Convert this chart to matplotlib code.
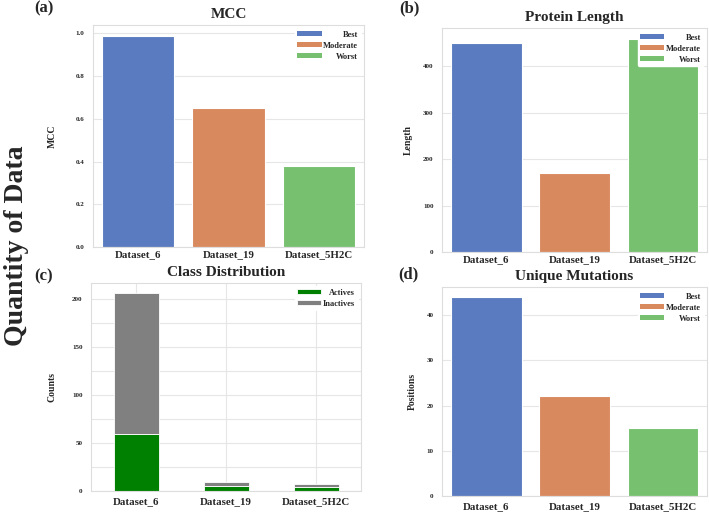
import matplotlib
matplotlib.use('Agg')
import matplotlib.pyplot as plt
import seaborn as sns
from matplotlib.patches import Patch
from matplotlib.ticker import MultipleLocator

sns.set_theme(style='whitegrid')
plt.rcParams['font.family'] = ['Liberation Serif', 'DejaVu Serif']
plt.rcParams['font.weight'] = 'bold'

datasets = ['Dataset_6', 'Dataset_19', 'Dataset_5H2C']
levels = ['Best', 'Moderate', 'Worst']
mcc = [0.99, 0.65, 0.38]
protein_length = [450, 170, 460]
actives = [59, 5, 4]
inactives = [147, 4, 3]
unique_mutations = [44, 22, 15]
class_labels = ['Actives', 'Inactives']

colors = ['#5a7bbf', '#d8895e', '#76c06f']
class_colors = ['#008000', '#808080']

W, H = 709, 515
fig = plt.figure(figsize=(W / 100, H / 100), dpi=100)


def box(l, t, r, b):
    return [l / W, 1 - b / H, (r - l) / W, (b - t) / H]


ax_a = fig.add_axes(box(93, 25, 364, 247))
ax_b = fig.add_axes(box(442, 28, 707, 252))
ax_c = fig.add_axes(box(91, 283, 361, 491))
ax_d = fig.add_axes(box(442, 287, 707, 496))

legends = []


def style(ax, title, ylabel, lx, xpad):
    ax.set_title(title, fontsize=11, fontweight='bold', pad=5)
    ax.set_ylabel(ylabel, fontsize=7, fontweight='bold')
    ax.yaxis.set_label_coords(lx, 0.5)
    ax.tick_params(axis='x', which='both', labelsize=7.8, pad=xpad, length=0)
    ax.tick_params(axis='y', which='both', labelsize=5, pad=6, length=0)
    for lab in ax.get_xticklabels() + ax.get_yticklabels():
        lab.set_fontweight('bold')
    for s in ax.spines.values():
        s.set_color('#dddddd')
        s.set_linewidth(0.8)


def simple_bar(ax, values, title, ylabel, lx, yticks, xpad):
    x = range(len(datasets))
    ax.bar(x, values, width=0.8, color=colors, edgecolor='white', linewidth=0.8, zorder=2)
    ax.set_xticks(list(x))
    ax.set_xticklabels(datasets)
    ax.set_xlim(-0.5, len(datasets) - 0.5)
    ax.set_yticks(yticks)
    ax.xaxis.grid(False)
    ax.yaxis.grid(True, color='#e6e6e6', linewidth=0.8)
    ax.set_axisbelow(True)
    handles = [Patch(facecolor=c, edgecolor='none') for c in colors]
    leg = ax.legend(handles, levels, loc='upper right', fontsize=6, frameon=True,
                    framealpha=1, edgecolor='white', handlelength=2.9, handleheight=0.55,
                    handletextpad=0.2, labelspacing=0.35, borderpad=0.3, borderaxespad=0.4)
    for t in leg.get_texts():
        t.set_fontweight('bold')
    legends.append(leg)
    style(ax, title, ylabel, lx, xpad)


simple_bar(ax_a, mcc, 'MCC', 'MCC', -0.133, [0.0, 0.2, 0.4, 0.6, 0.8, 1.0], 2.5)
simple_bar(ax_b, protein_length, 'Protein Length', 'Length', -0.109, [0, 100, 200, 300, 400], 2.5)
simple_bar(ax_d, unique_mutations, 'Unique Mutations', 'Positions', -0.094, [0, 10, 20, 30, 40], 4.5)

# (c) stacked class distribution
xc = range(len(datasets))
ax_c.bar(xc, actives, width=0.5, color=class_colors[0], edgecolor='white', linewidth=0.6,
         label=class_labels[0], zorder=2)
ax_c.bar(xc, inactives, width=0.5, bottom=actives, color=class_colors[1], edgecolor='white',
         linewidth=0.6, label=class_labels[1], zorder=2)
ax_c.set_xticks(list(xc))
ax_c.set_xticklabels(datasets)
ax_c.set_xlim(-0.5, len(datasets) - 0.5)
ax_c.set_yticks([0, 50, 100, 150, 200])
ax_c.yaxis.set_minor_locator(MultipleLocator(25))
ax_c.grid(True, which='major', color='#e6e6e6', linewidth=0.8)
ax_c.yaxis.grid(True, which='minor', color='#e6e6e6', linewidth=0.8)
ax_c.set_axisbelow(True)
leg_c = ax_c.legend(loc='upper right', fontsize=6, frameon=True, framealpha=1,
                    edgecolor='white', handlelength=2.9, handleheight=0.55,
                    handletextpad=0.2, labelspacing=0.35, borderpad=0.3, borderaxespad=0.4)
for t in leg_c.get_texts():
    t.set_fontweight('bold')
legends.append(leg_c)
style(ax_c, 'Class Distribution', 'Counts', -0.126, 4.5)

# panel labels and figure label
for txt, x, y in [('(a)', 44, 8), ('(b)', 409, 8), ('(c)', 44, 276), ('(d)', 408, 274)]:
    fig.text(x / W, 1 - y / H, txt, fontsize=12, fontweight='bold', ha='center', va='center')
fig.text(17 / W, 1 - 246 / H, 'Quantity of Data', fontsize=20, fontweight='bold',
         rotation=90, ha='center', va='center')

# right-align legend labels while keeping handles on the left
fig.canvas.draw()
renderer = fig.canvas.get_renderer()
for leg in legends:
    for col in leg._legend_handle_box.get_children():
        rows = col.get_children()
        wmax = max(r.get_bbox(renderer).width for r in rows)
        for r in rows:
            r.mode = 'expand'
            r.width = wmax

fig.savefig('out.png', dpi=100)
